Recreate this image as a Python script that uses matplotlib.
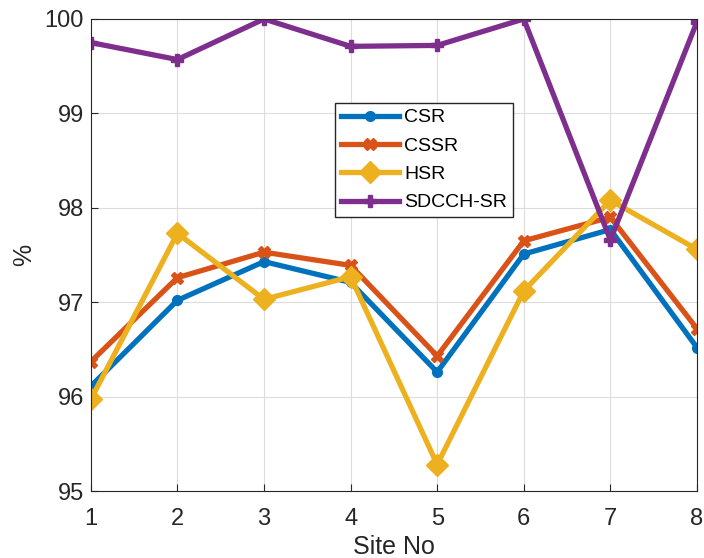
import numpy as np
import matplotlib
matplotlib.use("Agg")
import matplotlib.pyplot as plt

plt.rcParams['font.family'] = ['Liberation Sans', 'DejaVu Sans']

# ===== data =====
sites = [1, 2, 3, 4, 5, 6, 7, 8]
csr = [96.11, 97.02, 97.43, 97.21, 96.26, 97.51, 97.77, 96.52]
cssr = [96.37, 97.26, 97.53, 97.39, 96.43, 97.65, 97.90, 96.72]
hsr = [95.97, 97.73, 97.03, 97.27, 95.28, 97.12, 98.08, 97.56]
sdcch_sr = [99.75, 99.57, 100.0, 99.71, 99.72, 100.0, 97.66, 99.97]

# MATLAB 기본 색상
c_blue = "#0072BD"
c_orange = "#D95319"
c_yellow = "#EDB120"
c_purple = "#7E2F8E"

fig = plt.figure(figsize=(7.04, 5.58), dpi=100)
ax = fig.add_axes([0.129, 0.120, 0.861, 0.846])

lw = 3.8
ax.plot(sites, csr, color=c_blue, lw=lw, marker='o', ms=7, label="CSR")
ax.plot(sites, cssr, color=c_orange, lw=lw, marker='X', ms=8, label="CSSR")
ax.plot(sites, hsr, color=c_yellow, lw=lw, marker='D', ms=11, label="HSR")
ax.plot(sites, sdcch_sr, color=c_purple, lw=lw, marker='P', ms=8, label="SDCCH-SR")

ax.set_xlim(1, 8)
ax.set_ylim(95, 100)
ax.set_xticks(sites)
ax.set_yticks([95, 96, 97, 98, 99, 100])
ax.grid(True, color="#dcdcdc", lw=0.8)
ax.set_axisbelow(True)
ax.tick_params(direction="in", length=5, labelsize=17, colors="#262626", pad=5)
ax.tick_params(axis="x", pad=12)
for s in ax.spines.values():
    s.set_color("#262626")

ax.set_xlabel("Site No", fontsize=18, color="#262626", labelpad=4)
ax.set_ylabel("%", fontsize=18, color="#262626", labelpad=6)

leg = ax.legend(loc="upper left", bbox_to_anchor=(0.403, 0.822), fontsize=14,
                fancybox=False, framealpha=1, edgecolor="#262626",
                handlelength=3.0, borderpad=0.3, labelspacing=0.55,
                handletextpad=0.25, borderaxespad=0)
leg.get_frame().set_linewidth(1.0)

plt.savefig("out.png", dpi=100)
plt.close()
